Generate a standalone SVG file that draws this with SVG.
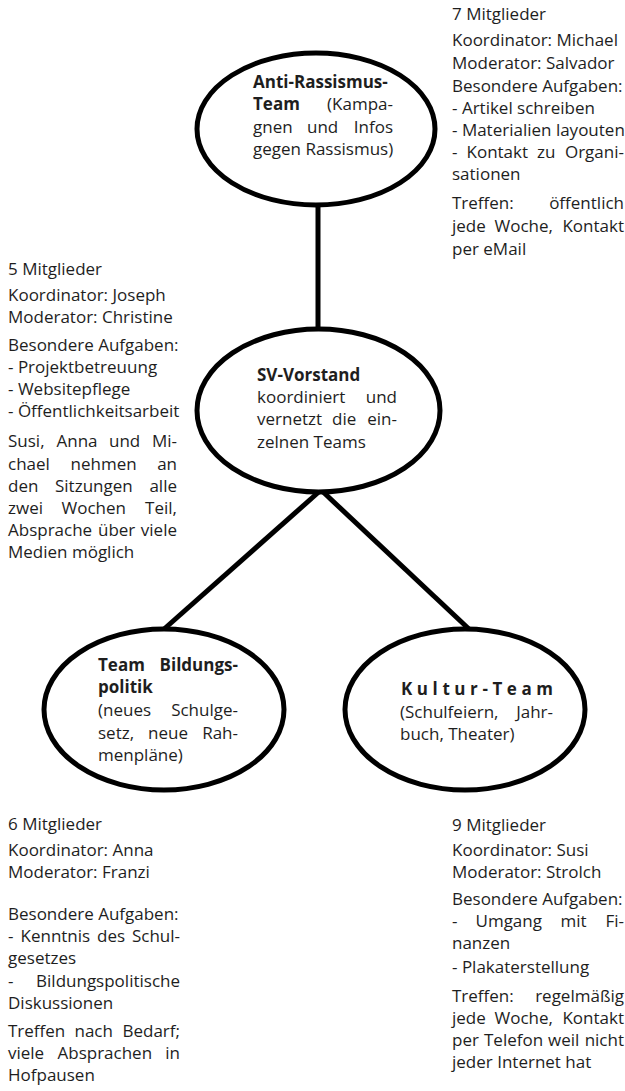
<svg xmlns="http://www.w3.org/2000/svg" width="625" height="1091" viewBox="0 0 625 1091">
<style>
.t{font-family:"Open Sans","Noto Sans","DejaVu Sans",sans-serif;font-size:17px;fill:#1e1e1e}
.b{font-weight:700}
.e{text-anchor:end}
.shape{fill:#fff;stroke:#000;stroke-width:5}
.conn line{stroke:#000;stroke-width:5;stroke-linecap:butt}
</style>
<rect width="625" height="1091" fill="#fff"/>
<g class="conn" id="connectors">
<line x1="318" y1="203" x2="318" y2="331"/>
<line x1="321" y1="490" x2="163" y2="630"/>
<line x1="321" y1="490" x2="470" y2="630"/>
</g>
<g id="node-antirassismus">
<ellipse class="shape" cx="316" cy="129" rx="119" ry="76"/>
<text class="t b" x="253" y="88">Anti-Rassismus-</text>
<text class="t b" x="253" y="110">Team</text>
<text class="t e" x="393" y="110">(Kampa-</text>
<text class="t" x="253" y="133">gnen</text>
<text class="t" x="307" y="133">und</text>
<text class="t e" x="393" y="133">Infos</text>
<text class="t" x="253" y="155">gegen Rassismus)</text>
</g>
<g id="node-sv-vorstand">
<ellipse class="shape" cx="318.5" cy="410.5" rx="121.5" ry="81.5"/>
<text class="t b" x="257" y="381">SV-Vorstand</text>
<text class="t" x="257" y="403">koordiniert</text>
<text class="t e" x="397" y="403">und</text>
<text class="t" x="257" y="425">vernetzt</text>
<text class="t" x="332" y="425">die</text>
<text class="t e" x="397" y="425">ein-</text>
<text class="t" x="257" y="448">zelnen Teams</text>
</g>
<g id="node-bildungspolitik">
<ellipse class="shape" cx="164" cy="709.5" rx="120" ry="80.5"/>
<text class="t b" x="98" y="671">Team</text>
<text class="t b e" x="238" y="671">Bildungs-</text>
<text class="t b" x="98" y="693">politik</text>
<text class="t" x="98" y="716">(neues</text>
<text class="t e" x="238" y="716">Schulge-</text>
<text class="t" x="98" y="739">setz,</text>
<text class="t" x="148" y="739">neue</text>
<text class="t e" x="238" y="739">Rah-</text>
<text class="t" x="98" y="761">menpläne)</text>
</g>
<g id="node-kultur">
<ellipse class="shape" cx="465" cy="709.5" rx="120" ry="80.5"/>
<text class="t b" x="401" y="695" textLength="152" lengthAdjust="spacing">Kultur-Team</text>
<text class="t" x="400" y="718">(Schulfeiern,</text>
<text class="t e" x="553" y="718">Jahr-</text>
<text class="t" x="400" y="740">buch, Theater)</text>
</g>
<g id="info-antirassismus">
<text class="t" x="452" y="20">7 Mitglieder</text>
<text class="t" x="452" y="46">Koordinator: Michael</text>
<text class="t" x="452" y="69">Moderator: Salvador</text>
<text class="t" x="452" y="92">Besondere Aufgaben:</text>
<text class="t" x="452" y="114">- Artikel schreiben</text>
<text class="t" x="452" y="136">- Materialien layouten</text>
<text class="t" x="452" y="158">-</text>
<text class="t" x="466.5" y="158">Kontakt</text>
<text class="t" x="537" y="158">zu</text>
<text class="t e" x="624" y="158">Organi-</text>
<text class="t" x="452" y="180">sationen</text>
<text class="t" x="452" y="209">Treffen:</text>
<text class="t e" x="624" y="209">öffentlich</text>
<text class="t" x="452" y="232">jede</text>
<text class="t" x="494.5" y="232">Woche,</text>
<text class="t e" x="624" y="232">Kontakt</text>
<text class="t" x="452" y="255">per eMail</text>
</g>
<g id="info-sv-vorstand">
<text class="t" x="8" y="275">5 Mitglieder</text>
<text class="t" x="8" y="301">Koordinator: Joseph</text>
<text class="t" x="8" y="323">Moderator: Christine</text>
<text class="t" x="8" y="351">Besondere Aufgaben:</text>
<text class="t" x="8" y="373">- Projektbetreuung</text>
<text class="t" x="8" y="395">- Websitepflege</text>
<text class="t" x="8" y="417">- Öffentlichkeitsarbeit</text>
<text class="t" x="8" y="447">Susi,</text>
<text class="t" x="56.5" y="447">Anna</text>
<text class="t" x="109" y="447">und</text>
<text class="t e" x="177" y="447">Mi-</text>
<text class="t" x="8" y="470">chael</text>
<text class="t" x="70.5" y="470">nehmen</text>
<text class="t e" x="177" y="470">an</text>
<text class="t" x="8" y="492">den</text>
<text class="t" x="55" y="492">Sitzungen</text>
<text class="t e" x="177" y="492">alle</text>
<text class="t" x="8" y="514">zwei</text>
<text class="t" x="61.5" y="514">Wochen</text>
<text class="t e" x="177" y="514">Teil,</text>
<text class="t" x="8" y="536">Absprache</text>
<text class="t" x="98" y="536">über</text>
<text class="t e" x="177" y="536">viele</text>
<text class="t" x="8" y="558">Medien möglich</text>
</g>
<g id="info-bildungspolitik">
<text class="t" x="8" y="830">6 Mitglieder</text>
<text class="t" x="8" y="856">Koordinator: Anna</text>
<text class="t" x="8" y="878">Moderator: Franzi</text>
<text class="t" x="8" y="920">Besondere Aufgaben:</text>
<text class="t" x="8" y="942">-</text>
<text class="t" x="20.5" y="942">Kenntnis</text>
<text class="t" x="97" y="942">des</text>
<text class="t e" x="180" y="942">Schul-</text>
<text class="t" x="8" y="964">gesetzes</text>
<text class="t" x="8" y="987">-</text>
<text class="t e" x="180" y="987">Bildungspolitische</text>
<text class="t" x="8" y="1009">Diskussionen</text>
<text class="t" x="8" y="1037">Treffen</text>
<text class="t" x="74.5" y="1037">nach</text>
<text class="t e" x="180" y="1037">Bedarf;</text>
<text class="t" x="8" y="1059">viele</text>
<text class="t" x="57.5" y="1059">Absprachen</text>
<text class="t e" x="180" y="1059">in</text>
<text class="t" x="8" y="1081">Hofpausen</text>
</g>
<g id="info-kultur">
<text class="t" x="452" y="831">9 Mitglieder</text>
<text class="t" x="452" y="856">Koordinator: Susi</text>
<text class="t" x="452" y="878">Moderator: Strolch</text>
<text class="t" x="452" y="905">Besondere Aufgaben:</text>
<text class="t" x="452" y="927">-</text>
<text class="t" x="475.5" y="927">Umgang</text>
<text class="t" x="560.5" y="927">mit</text>
<text class="t e" x="624" y="927">Fi-</text>
<text class="t" x="452" y="949">nanzen</text>
<text class="t" x="452" y="973">- Plakaterstellung</text>
<text class="t" x="452" y="1002">Treffen:</text>
<text class="t e" x="624" y="1002">regelmäßig</text>
<text class="t" x="452" y="1024">jede</text>
<text class="t" x="494.5" y="1024">Woche,</text>
<text class="t e" x="624" y="1024">Kontakt</text>
<text class="t" x="452" y="1046">per</text>
<text class="t" x="484" y="1046">Telefon</text>
<text class="t" x="548" y="1046">weil</text>
<text class="t e" x="624" y="1046">nicht</text>
<text class="t" x="452" y="1068">jeder Internet hat</text>
</g>
</svg>
